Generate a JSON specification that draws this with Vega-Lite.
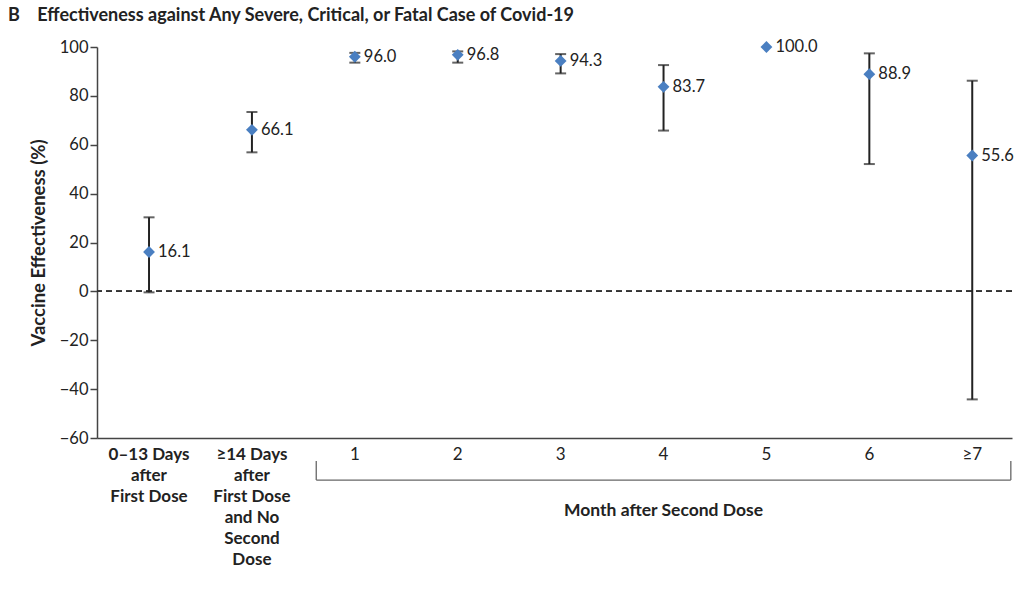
{
  "$schema": "https://vega.github.io/schema/vega-lite/v6.json",
  "width": 915,
  "height": 391,
  "autosize": {"type": "none"},
  "padding": {"left": 97, "top": 47, "right": 12, "bottom": 153},
  "background": "white",
  "title": {
    "text": "B\u00a0\u00a0\u00a0\u00a0Effectiveness against Any Severe, Critical, or Fatal Case of Covid-19",
    "anchor": "start",
    "frame": "group",
    "dx": -89,
    "offset": 14,
    "font": "Lato",
    "fontSize": 18,
    "fontWeight": "bold",
    "color": "#222222"
  },
  "config": {"view": {"stroke": null}, "font": "Lato"},
  "data": {
    "values": [
      {"cat": "0–13 Days|after|First Dose", "ve": 16.1, "lo": -0.4, "hi": 30.3},
      {"cat": "≥14 Days|after|First Dose|and No|Second|Dose", "ve": 66.1, "lo": 56.9, "hi": 73.4},
      {"cat": "1", "ve": 96.0, "lo": 93.6, "hi": 97.6},
      {"cat": "2", "ve": 96.8, "lo": 93.6, "hi": 98.2},
      {"cat": "3", "ve": 94.3, "lo": 89.2, "hi": 97.1},
      {"cat": "4", "ve": 83.7, "lo": 65.8, "hi": 92.6},
      {"cat": "5", "ve": 100.0, "lo": null, "hi": null},
      {"cat": "6", "ve": 88.9, "lo": 52.1, "hi": 97.4},
      {"cat": "≥7", "ve": 55.6, "lo": -44.2, "hi": 86.2}
    ]
  },
  "layer": [
    {
      "mark": {"type": "rule", "strokeDash": [6, 4], "color": "#333333", "strokeWidth": 1.2},
      "encoding": {
        "y": {"datum": 0, "type": "quantitative", "scale": {"domain": [-60, 100], "nice": false, "zero": false},
          "axis": {
            "values": [-60, -40, -20, 0, 20, 40, 60, 80, 100],
            "title": "Vaccine Effectiveness (%)",
            "grid": false,
            "tickSize": 7,
            "tickWidth": 1.5,
            "tickColor": "#444444",
            "domainColor": "#444444",
            "domainWidth": 1.5,
            "labelFontSize": 16.5,
            "labelColor": "#222222",
            "labelPadding": 2,
            "titleFontSize": 18.5,
            "titleFontWeight": "bold",
            "titleColor": "#222222",
            "titlePadding": 11
          }
        }
      }
    },
    {
      "mark": {"type": "rule", "color": "#222222", "strokeWidth": 2},
      "encoding": {
        "x": {
          "field": "cat",
          "type": "nominal",
          "sort": null,
          "scale": {
            "type": "band",
            "domain": ["0–13 Days|after|First Dose", "≥14 Days|after|First Dose|and No|Second|Dose", "1", "2", "3", "4", "5", "6", "≥7"],
            "paddingInner": 0.25,
            "paddingOuter": 0.071,
            "align": 0.92
          },
          "axis": {
            "title": null,
            "ticks": false,
            "labelAngle": 0,
            "labelExpr": "split(datum.label, '|')",
            "labelFontSize": 17,
            "labelLineHeight": 21,
            "labelPadding": 8,
            "labelColor": "#222222",
            "labelFontWeight": {"condition": {"test": "length(datum.value) > 3", "value": "bold"}, "value": "normal"},
            "domainColor": "#444444",
            "domainWidth": 1.5
          }
        },
        "y": {"field": "lo", "type": "quantitative"},
        "y2": {"field": "hi"}
      }
    },
    {
      "mark": {"type": "tick", "color": "#222222", "thickness": 2, "size": 11},
      "encoding": {
        "x": {"field": "cat", "type": "nominal", "sort": null},
        "y": {"field": "lo", "type": "quantitative"}
      }
    },
    {
      "mark": {"type": "tick", "color": "#222222", "thickness": 2, "size": 11},
      "encoding": {
        "x": {"field": "cat", "type": "nominal", "sort": null},
        "y": {"field": "hi", "type": "quantitative"}
      }
    },
    {
      "mark": {"type": "point", "shape": "diamond", "filled": true, "color": "#4a7fc1", "size": 140, "opacity": 1},
      "encoding": {
        "x": {"field": "cat", "type": "nominal", "sort": null},
        "y": {"field": "ve", "type": "quantitative"}
      }
    },
    {
      "mark": {"type": "text", "align": "left", "baseline": "middle", "dx": 9, "fontSize": 16.5, "color": "#222222"},
      "encoding": {
        "x": {"field": "cat", "type": "nominal", "sort": null},
        "y": {"field": "ve", "type": "quantitative"},
        "text": {"field": "ve", "type": "quantitative", "format": ".1f"}
      }
    },
    {
      "data": {"values": [{"first": "1", "last": "≥7", "mid": "4", "label": "Month after Second Dose"}]},
      "layer": [
        {
          "mark": {"type": "rule", "color": "#666666", "strokeWidth": 1.3, "clip": false},
          "encoding": {
            "x": {"field": "first", "type": "nominal", "bandPosition": 0},
            "x2": {"field": "last", "bandPosition": 1},
            "y": {"datum": -77.2, "type": "quantitative"}
          }
        },
        {
          "mark": {"type": "rule", "color": "#666666", "strokeWidth": 1.3, "clip": false},
          "encoding": {
            "x": {"field": "first", "type": "nominal", "bandPosition": 0},
            "y": {"datum": -69.4, "type": "quantitative"},
            "y2": {"datum": -77.2}
          }
        },
        {
          "mark": {"type": "rule", "color": "#666666", "strokeWidth": 1.3, "clip": false},
          "encoding": {
            "x": {"field": "last", "type": "nominal", "bandPosition": 1},
            "y": {"datum": -69.4, "type": "quantitative"},
            "y2": {"datum": -77.2}
          }
        },
        {
          "mark": {"type": "text", "fontSize": 17.5, "fontWeight": "bold", "color": "#222222", "baseline": "middle", "clip": false},
          "encoding": {
            "x": {"field": "mid", "type": "nominal"},
            "y": {"datum": -89.9, "type": "quantitative"},
            "text": {"field": "label"}
          }
        }
      ]
    }
  ]
}
